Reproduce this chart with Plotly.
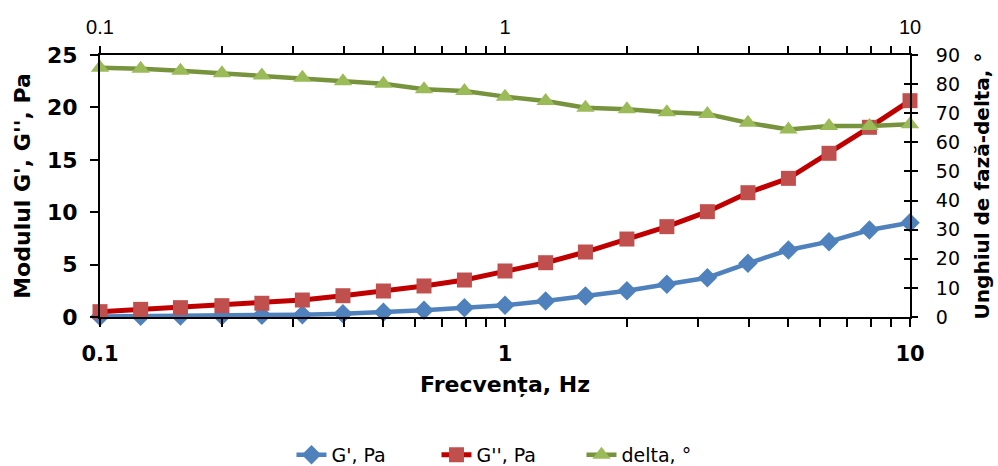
import plotly.graph_objects as go

freq = [0.1, 0.126, 0.158, 0.2, 0.251, 0.316, 0.398, 0.501, 0.631, 0.794,
        1.0, 1.26, 1.58, 2.0, 2.51, 3.16, 3.98, 5.01, 6.31, 7.94, 10.0]
g_storage = [0.05, 0.07, 0.1, 0.13, 0.17, 0.22, 0.3, 0.45, 0.65, 0.88,
             1.12, 1.53, 2.0, 2.51, 3.12, 3.75, 5.12, 6.39, 7.19, 8.3, 9.0]
g_loss = [0.51, 0.73, 0.89, 1.08, 1.31, 1.62, 2.03, 2.48, 2.96, 3.53,
          4.39, 5.18, 6.2, 7.44, 8.62, 10.05, 11.86, 13.23, 15.62, 18.1, 20.64]
delta = [85.6, 85.3, 84.6, 83.7, 83.0, 82.2, 81.0, 80.1, 78.2, 77.6,
         75.7, 74.2, 71.9, 71.4, 70.3, 69.7, 66.7, 64.4, 65.6, 65.6, 66.2]

x_tickvals = [0.1, 0.2, 0.3, 0.4, 0.5, 0.6, 0.7, 0.8, 0.9,
              1, 2, 3, 4, 5, 6, 7, 8, 9, 10]
x_ticktext = ["0.1", "", "", "", "", "", "", "", "",
              "1", "", "", "", "", "", "", "", "", "10"]

BOLD = "DejaVu Sans, Liberation Sans, Arial, sans-serif"
REG = "DejaVu Sans, Liberation Sans, Arial, sans-serif"
NARROW = "Liberation Sans Narrow, Liberation Sans, Arial, sans-serif"

fig = go.Figure()
fig.add_trace(go.Scatter(
    x=freq, y=g_storage, name="G', Pa", mode="lines+markers",
    line=dict(color="#4F81BD", width=4.5),
    marker=dict(symbol="diamond", size=15, color="#4F81BD"),
    cliponaxis=False))
fig.add_trace(go.Scatter(
    x=freq, y=g_loss, name="G'', Pa", mode="lines+markers",
    line=dict(color="#C00000", width=5),
    marker=dict(symbol="square", size=15, color="#C0504D"),
    cliponaxis=False))
fig.add_trace(go.Scatter(
    x=freq, y=delta, name="delta, °", mode="lines+markers", yaxis="y2",
    line=dict(color="#77933C", width=4.5),
    marker=dict(symbol="triangle-up", size=16, color="#9BBB59"),
    cliponaxis=False))
# invisible helper traces to activate top axis and right inner ticks
fig.add_trace(go.Scatter(x=[0.1, 10], y=[0, 0], xaxis="x2", mode="markers",
                         marker=dict(opacity=0), showlegend=False,
                         hoverinfo="skip"))
fig.add_trace(go.Scatter(x=[0.1, 10], y=[0, 0], yaxis="y3", mode="markers",
                         marker=dict(opacity=0), showlegend=False,
                         hoverinfo="skip"))

fig.update_layout(
    width=998, height=466,
    margin=dict(l=100, r=88, t=55, b=149, autoexpand=False),
    paper_bgcolor="white", plot_bgcolor="white",
    font=dict(family=REG, color="black"),
    showlegend=True,
    legend=dict(orientation="h", x=0.51, xref="container", xanchor="center",
                y=0.024, yref="container", yanchor="middle",
                font=dict(size=19, family=REG), tracegroupgap=0,
                entrywidth=100, entrywidthmode="pixels"),
    xaxis=dict(
        type="log", range=[-1, 1],
        tickvals=x_tickvals, ticktext=x_ticktext,
        ticks="outside", ticklen=8, tickwidth=2, tickcolor="black",
        showline=True, linecolor="black", linewidth=2, mirror=False,
        showgrid=False, zeroline=False,
        tickfont=dict(size=21, family=BOLD, weight="bold"),
        ticklabelstandoff=9,
        title=dict(text="Frecvența, Hz",
                   font=dict(size=22, family=BOLD, weight="bold"),
                   standoff=11),
    ),
    xaxis2=dict(
        type="log", range=[-1, 1], overlaying="x", side="top",
        tickvals=x_tickvals, ticktext=x_ticktext,
        ticks="outside", ticklen=7, tickwidth=2, tickcolor="black",
        showline=True, linecolor="black", linewidth=2,
        showgrid=False, zeroline=False,
        tickfont=dict(size=20, family=NARROW),
        ticklabelstandoff=4,
    ),
    yaxis=dict(
        range=[0, 25], dtick=5,
        ticks="outside", ticklen=8, tickwidth=2, tickcolor="black",
        showline=True, linecolor="black", linewidth=2,
        showgrid=False, zeroline=False,
        tickfont=dict(size=22, family=BOLD, weight="bold"),
        ticklabelstandoff=8,
        title=dict(text="Modulul G', G'', Pa",
                   font=dict(size=22, family=BOLD, weight="bold"),
                   standoff=10),
    ),
    yaxis2=dict(
        range=[0, 90], dtick=10, overlaying="y", side="right",
        ticks="outside", ticklen=6, tickwidth=2, tickcolor="black",
        showline=True, linecolor="black", linewidth=2,
        showgrid=False, zeroline=False,
        tickfont=dict(size=19, family=REG),
        ticklabelstandoff=14,
        title=dict(text="Unghiul de fază-delta, °",
                   font=dict(size=20, family=BOLD, weight="bold"),
                   standoff=16),
    ),
    yaxis3=dict(
        range=[0, 90], dtick=10, overlaying="y", side="right",
        ticks="inside", ticklen=6, tickwidth=2, tickcolor="black",
        showline=False, showticklabels=False,
        showgrid=False, zeroline=False,
    ),
)

fig.write_html("out.html")
